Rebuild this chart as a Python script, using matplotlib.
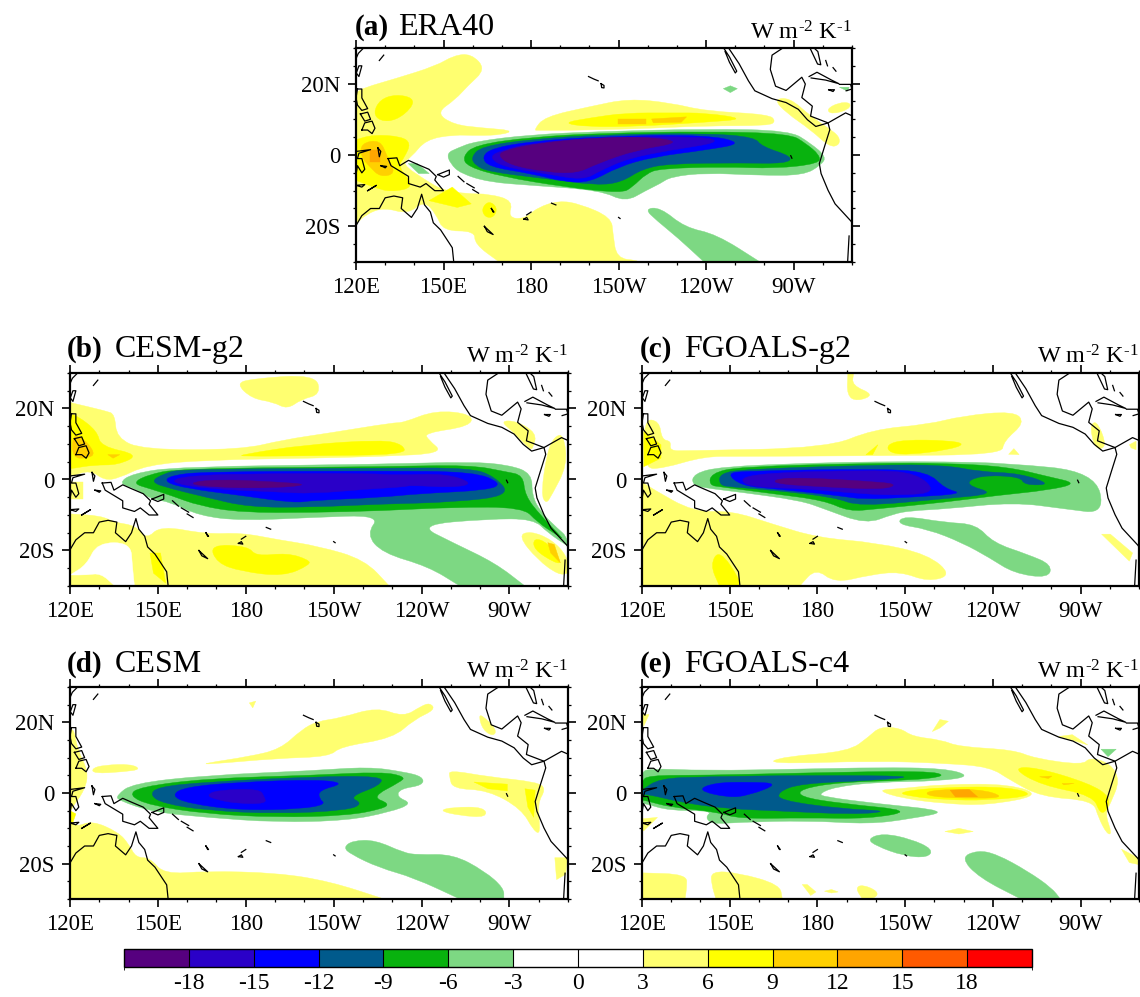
import matplotlib as mpl
mpl.use('Agg')
import matplotlib.pyplot as plt
from matplotlib.colors import ListedColormap, BoundaryNorm
from matplotlib.patches import PathPatch
from matplotlib.path import Path

W, H = 1140, 997

# shading levels, each key is the lower magnitude of the band
LEVEL_COLORS = {0: '#FFFFFF', 3: '#FFFF70', 6: '#FFFF00', 9: '#FFD000', 12: '#FFA500',
                -3: '#7DD883', -6: '#08B20E', -9: '#005A8C', -12: '#0000FF', -15: '#2A00C8', -18: '#56007F'}
CBAR_LEVELS = [-21, -18, -15, -12, -9, -6, -3, 0, 3, 6, 9, 12, 15, 18, 21]
CBAR_COLORS = ['#56007F', '#2A00C8', '#0000FF', '#005A8C', '#08B20E', '#7DD883', '#FFFFFF',
               '#FFFFFF', '#FFFF70', '#FFFF00', '#FFD000', '#FFA500', '#FF5A00', '#FF0000']
CBAR_TICKS = [-18, -15, -12, -9, -6, -3, 0, 3, 6, 9, 12, 15, 18]
CBAR_LABELS = ['-18', '-15', '-12', '-9', '-6', '-3', '0', '3', '6', '9', '12', '15', '18']
LON_TICKS = [120, 150, 180, 210, 240, 270]
LON_LABELS = ['120E', '150E', '180', '150W', '120W', '90W']
LAT_TICKS = [-20, 0, 20]
LAT_LABELS = ['20S', '0', '20N']

# coastlines, lon / lat
COAST = [
    ([247.7, 251.3, 254.5, 256.7, 262.6, 267.4, 271.6, 274.7, 277.6, 281.8, 282.4, 280.6, 278.8, 279.4, 281.8, 284.2, 289.6, 290],
     [30, 25.6, 20.8, 18, 15.8, 14.7, 12.8, 9.9, 8, 9, 7.1, 2.4, -2.4, -5.2, -9.9, -13.7, -18.5, -19]),
    ([246, 248, 250.5, 250, 248, 246.5], [30, 27.5, 23.5, 23, 26, 29]),
    ([266.3, 262.6, 262, 263.8, 267.4, 272.8, 274, 272.8, 276.4, 275.8, 281.8, 287.8, 290],
     [30, 28, 24, 19.3, 18.1, 21.8, 19.9, 16.1, 13.7, 10.9, 9, 11.8, 11]),
    ([275.6, 278.2, 279.3, 278.3, 277], [30, 25.5, 25.3, 29, 30]),
    ([275.3, 278, 283, 285.5, 281, 276], [22, 23.2, 21, 20, 21, 21.6]),
    ([282, 284, 283.5, 282], [18.3, 18.3, 17.8, 18.3]),
    ([285.7, 289.5, 290, 288], [19.8, 19.8, 18.5, 18]),
    ([281, 281.6], [26.5, 25]), ([283.5, 284.5], [24.5, 23.5]),
    ([289, 288.5], [-22.7, -30]),
    ([120, 120.8, 122, 122.6], [27, 28.5, 29.5, 30]),
    ([120.1, 121, 122, 121, 120.1], [23, 25, 25, 22, 23]),
    ([120.5, 122, 122, 124, 122, 120.5, 120, 120.5], [18.5, 18.5, 16, 13, 12.5, 14, 16, 18.5]),
    ([121.5, 124, 125, 123, 121.5], [11.5, 12, 10, 9.5, 11.5]),
    ([122, 123, 125.5, 126.5, 125.5, 124, 122], [7, 9, 9.5, 7.5, 6, 7, 7]),
    ([120, 125, 121, 120.5, 122, 123, 122, 120.5, 120], [1, 1.5, 0.5, -1, -1, -4, -5, -3, -5.5]),
    ([127.5, 128, 128.5, 127.5], [2, -0.5, 1, 2]),
    ([131, 134, 135, 138, 141, 145, 147.5, 147, 150, 147, 144, 142, 138, 138, 134, 132, 131],
     [-1, -0.8, -3, -1.5, -2.6, -4, -6, -7, -10, -10, -8, -9, -8, -6, -4, -3, -1]),
    ([148, 152, 152, 150, 148], [-5.5, -4.2, -5.5, -6.2, -5.5]),
    ([155, 157], [-6, -7.5]), ([158, 160.5], [-8, -9.2]), ([160, 162], [-9.7, -10.7]),
    ([124, 127, 125, 124], [-10, -8.5, -9.5, -10]),
    ([120, 123, 122, 120], [-8.5, -8.3, -9, -8.5]),
    ([128.5, 130.5, 130, 128.5], [-3, -3.2, -3.6, -3]),
    ([120, 122, 125, 128, 130, 133, 136, 135.5, 139, 141, 142.5, 143.5, 145.5, 146.5, 149, 151, 153, 153.5],
     [-19.8, -17, -15, -15, -12, -11.5, -12, -15, -17.5, -15, -11, -14, -16, -19, -21, -23.5, -26, -30]),
    ([166.4, 167.3, 167, 166.4], [-15, -16, -16, -15]),
    ([164, 167, 165, 164], [-20, -22.3, -21.5, -20]),
    ([177.5, 178.5, 179, 177.5], [-18, -17.5, -18.2, -18]),
    ([178.5, 180], [-16.8, -16]),
    ([187, 188.5], [-13.5, -14]),
    ([210, 210.5], [-17.5, -17.8]),
    ([199.7, 201.5, 203], [22, 21.3, 20.8]),
    ([204, 205, 205, 204.2, 204], [20, 19.5, 18.8, 18.9, 20]),
    ([128, 129.5], [26.5, 28]),
    ([269, 269.4], [-0.2, -0.9]),
]

# (a) ERA40
PANEL_A = [
    (3, [120, 122.9, 133.1, 147.5, 153.5, 159.5, 164.5, 158.3, 154.1, 147.5, 153.5, 163.1, 173.9, 170.3, 161.9, 153.5, 143.9, 139.1, 135.5, 143.9, 149.9, 158.3, 165.5, 173.9, 172.1, 177.5, 182.3, 189.5, 196.7, 207.5, 208.1, 209.3, 216.5, 216.5, 169.1, 160.7, 160.7, 149.9, 147.5, 143.3, 137.9, 129.5, 123.5, 120],
         [17.5, 18.9, 21.3, 25, 27.9, 28.4, 24.1, 19.4, 15.6, 11.8, 8.5, 7.6, 6.9, 5.7, 5.4, 5.7, 4.3, -0.5, -2.4, -7.1, -9.9, -10.9, -10.9, -12.8, -17.5, -18, -14.7, -12.8, -13.7, -17.5, -22.2, -28.9, -29.6, -30, -30, -25, -21.3, -21.3, -16.6, -12.8, -16.6, -14.7, -16.6, -19.4]),
    (3, [181, 184.6, 200.3, 213.5, 227.9, 239.9, 261.5, 263.9, 261.5, 239.9, 215.9, 191.9, 182.3],
         [7, 10.7, 13.6, 15.8, 14.6, 12.3, 11.4, 9.5, 8.2, 8.2, 7.3, 6.9, 6.9]),
    (3, [263.2, 268.6, 275.8, 281.8, 285.7, 285.7, 282.4, 275.8, 267.5], [15.6, 16.1, 10.9, 7.6, 5.2, 2.8, 2.2, 7.1, 11.8]),
    (3, [281.2, 285.4, 289.6, 289, 283.1], [12.8, 14.7, 14.7, 12.8, 11.4]),
    (6, [125.9, 128.3, 133.7, 139.7, 139.1, 133.7, 128.3], [11.8, 15.6, 17, 16, 13.2, 9.7, 9.5]),
    (6, [120, 125.9, 135.5, 138.8, 136.7, 134.3, 140.3, 131.9, 125.9, 120], [4.3, 5.7, 5.2, 3.3, -0.5, -3.3, -9, -10.4, -9, -7.1]),
    (6, [145, 153, 159.5, 154.7], [-12.8, -9, -13.7, -14.7]),
    (6, [163, 165.5, 168.5, 167.3, 164.3], [-15.1, -12.8, -14.7, -17.5, -17.5]),
    (6, [190.7, 200.3, 212.3, 227.9, 239.9, 253.7, 239.9, 215.9, 199.1], [9, 10.4, 11.8, 11.8, 11.8, 10.1, 9.2, 8, 7.9]),
    (9, [121.7, 128.3, 130.7, 133.7, 128.3, 124.7, 121.7], [3.3, 4.3, -0.5, -5.2, -6.2, -3.3, -0.5]),
    (12, [124.7, 128.3, 128.3, 124.7], [1.4, 1.4, -2, -2]),
    (9, [209.9, 219.4, 219.4, 209.9], [10, 10, 8.8, 8.8]),
    (9, [221.3, 233.3, 231.5, 221.9], [10.1, 10.7, 9.2, 9]),
    (-3, [218.9, 224.3, 232.7, 243.5, 258.5, 239.3, 230.3, 223.1], [-15.1, -14.7, -20.3, -22.2, -30, -30, -23.2, -18.4]),
    (-3, [245.9, 248.3, 250.7, 248.3], [18.6, 19.4, 18.6, 17.5]),
    (-3, [137.9, 141, 145.1, 141.5], [-2.4, -2.4, -5.2, -5.2]),
    (-3, [285.7, 289, 288.5], [19, 19, 17.9]),
    (-3, [151.1, 154.7, 160.7, 179.9, 203.9, 239.9, 268.6, 275.8, 281.2, 279.4, 273.4, 257.9, 239.9, 227.9, 224.3, 219.5, 212.3, 203.9, 179.9, 165.5, 155.9, 152.3],
         [0.5, 1.9, 3.8, 5.7, 6.6, 7.3, 6.9, 3.3, -0.5, -2.8, -5.7, -5.7, -5, -6.1, -8, -9.9, -13.2, -9.9, -8.5, -7.6, -5.2, -2.4]),
    (-6, [156.5, 160.7, 179.9, 203.9, 239.9, 268.6, 274.1, 278.9, 278.9, 263.9, 245.9, 224.3, 219.5, 214.7, 211.1, 191.9, 170.3, 158.3],
         [-0.5, 2.8, 5, 6.1, 6.6, 6, 3.3, 0, -2.4, -3.8, -3.3, -3.8, -5.2, -9, -10.7, -9, -6.1, -3.3]),
    (-9, [159.5, 163.1, 179.9, 203.9, 239.9, 256.7, 259, 269.8, 267.4, 251.9, 227.9, 218.3, 211.1, 202.7, 184.7, 165.5, 160.7],
         [-0.5, 2.4, 4.4, 5.7, 6.1, 5, 2.4, -0.5, -2.4, -2.2, -2.4, -3.8, -7.6, -8.5, -6.6, -4.7, -2.8]),
    (-12, [163.1, 166.7, 179.9, 203.9, 239.9, 253, 239.9, 221.9, 209.9, 200.3, 191.9, 179.9, 165.5],
          [-0.5, 1.9, 3.8, 5.2, 5.7, 3.3, 1.4, -0.5, -3.3, -7.6, -7.6, -5.2, -3.3]),
    (-15, [165.5, 170.3, 179.9, 203.9, 239.9, 244.7, 227.9, 213.5, 203.9, 197.9, 184.7, 170.3],
          [-0.5, 1.4, 3.3, 5, 5.2, 3.5, 1.4, -0.9, -4.3, -7.1, -5.2, -3.3]),
    (-18, [168.5, 171.5, 182.3, 203.9, 221.9, 231.5, 215.9, 202.7, 195.5, 184.7, 172.7],
          [0, 1.4, 3.3, 5, 5, 3.5, 1.4, -2.4, -5.2, -4.7, -2.8]),
]

# (b) CESM-g2
PANEL_B = [
    (3, [176.7, 182.1, 203.8, 205.6, 199, 194.2, 189.4, 182.1], [27, 28.4, 29.6, 24, 22.6, 19.8, 21.8, 22.8]),
    (3, [120, 132.3, 135.3, 135.9, 144.9, 178.5, 193, 208.6, 230.2, 233.8, 244.7, 257.3, 256.7, 241.1, 242.3, 247.7, 226.6, 202.6, 166.5, 146.1, 136.5, 131.7, 126.9, 120],
         [21.7, 19.3, 18.4, 11.7, 8.4, 8.4, 11.2, 13.1, 16, 16, 19.5, 18.4, 15, 13.1, 11.2, 7.4, 6.5, 6, 5.5, 4.1, 0.3, -0.2, 2.7, 0.8]),
    (3, [120, 124.5, 124.5, 120], [-0.7, -0.7, -5.5, -5.5]),
    (3, [120, 130.5, 135.3, 142.5, 146.1, 150.9, 166.5, 178.5, 190.6, 205, 220.6, 229, 120],
         [-9.7, -10.2, -12.1, -13, -16.9, -13, -15.4, -15, -16.9, -18.8, -22.6, -30, -30]),
    (0, [120, 125.7, 129.3, 140.7, 141.3, 142, 135.3, 130.5, 125.7], [-26.9, -24, -17.8, -17.8, -24.5, -30, -30, -26.4, -26.9]),
    (3, [266.9, 272.3, 279.3, 278.1, 277.1, 271], [16.5, 16.5, 13.1, 8.9, 8.4, 13.6]),
    (3, [285.5, 288.5, 289.8, 284.4, 282.5, 280.8, 282.9], [12.2, 12.7, 4.1, -4.5, -6.9, -4, 7.9]),
    (3, [273, 277.1, 284.4, 289.8, 290, 286.8, 279.6], [-15.9, -14.5, -16.9, -21.6, -26.4, -26.9, -22.6]),
    (6, [120, 122.6, 129.3, 130.5, 143.7, 136.5, 128.1, 120.8, 120], [18.4, 17.9, 13.6, 9.3, 7, 4.1, 4.1, 3.1, 3.1]),
    (6, [178.5, 200.2, 226.6, 233.8, 234.5, 202.6, 178.5], [7, 9.8, 11.2, 9.8, 7, 6.7, 6.5]),
    (6, [167.7, 180.9, 183.4, 194.2, 201.4, 202, 193, 178.5, 170.1], [-18.3, -18.8, -21.6, -20.7, -22.6, -24, -27.3, -25.9, -23.5]),
    (6, [147.3, 150.9, 152.7, 148.5], [-20.7, -20.7, -29.2, -26.4]),
    (6, [278.3, 283.1, 288, 285.5, 278.3], [-16.4, -17.8, -23.5, -23.5, -19.7]),
    (9, [120.8, 124.5, 128.7, 126.3, 120.8], [12.7, 11.7, 7.4, 6, 6]),
    (9, [132.9, 137, 134.7], [7, 7, 6]),
    (9, [283.1, 285.3, 287.4, 284.1], [-17.8, -18.3, -23.5, -20.7]),
    (-3, [136.5, 141.3, 156.9, 226.6, 256.7, 269.9, 277.7, 277.7, 280.7, 286.7, 289.4, 290, 283.1, 278.3, 262.7, 238.7, 250.7, 265.1, 275.3, 253.1, 242.3, 226.6, 221.2, 226, 202.6, 178.5, 164.1, 154.5, 147.3, 142.5],
          [-1.1, 1.7, 3.6, 4.3, 5, 4.1, 1.7, -4.5, -9.2, -14, -15.9, -18.8, -15, -11.1, -11.1, -12.8, -17.8, -23.5, -30, -30, -24.5, -20.7, -15.4, -10, -10.7, -11.6, -10.2, -6.4, -5.4, -2.6]),
    (-6, [141.3, 146.1, 156.9, 226.6, 256.7, 268.7, 274.7, 275.3, 280.7, 288.6, 286.7, 279.5, 274.7, 250.7, 226.6, 202.6, 178.5, 164.1, 154.5, 147.3],
          [-1.1, 1.2, 3.1, 3.6, 4.1, 2.2, 1.2, -4.5, -10.2, -16.9, -15.9, -12, -7.8, -7.8, -8.8, -9.3, -9.3, -7.4, -4.5, -2.6]),
    (-9, [147.3, 152.1, 158.1, 226.6, 256.7, 265.1, 270.5, 250.7, 226.6, 202.6, 181, 166.5, 154.5],
          [-0.7, 1.7, 2.9, 3.2, 3.3, 0.8, -4.5, -6.4, -6.9, -7.8, -7.8, -5, -2.6]),
    (-12, [152.1, 154.5, 166.5, 226.6, 257.9, 267.5, 262.7, 238.7, 226.6, 202.6, 196.6, 178.5, 160.5],
          [-0.7, 1.2, 2.2, 2.4, 2.2, -1.1, -3, -4, -5, -5.9, -6.6, -4.5, -2.6]),
    (-15, [153.3, 160.5, 190.6, 223, 231.4, 248.3, 257.9, 250.7, 236.3, 234, 223, 202.6, 190.6, 166.5],
          [-0.7, 1.2, 1.7, 1.7, 1.2, 1.7, -1.1, -2.3, -1.6, -2.1, -2.6, -4, -3.5, -2.6]),
    (-18, [159.3, 170.1, 190.6, 202, 190.6, 170.1], [-1.1, 0.1, -0.7, -1.4, -2.4, -2.3]),
]

# (c) FGOALS-g2
PANEL_C = [
    (3, [190.4, 192.4, 191.8, 199.5, 193.6, 190.1], [30, 30, 26.5, 23.9, 22, 23.6]),
    (3, [120.6, 125.9, 126.8, 130, 129.4, 135.3, 183.6, 198.9, 217.8, 229.5, 247.2, 251, 243.7, 243.1, 200.1, 153, 141.2, 127.1, 120.6],
         [17, 16.5, 11.2, 10.8, 8.1, 8.1, 8.9, 14.1, 15.5, 17.9, 19.3, 16, 10.8, 7, 6.7, 6.5, 6.5, 3.1, 3.1]),
    (3, [245.4, 247.2, 249], [7.1, 8.7, 7]),
    (3, [120, 123.5, 137.7, 150.6, 164.8, 180.1, 200.1, 217.8, 226, 217.8, 208.3, 197.7, 186, 179.5, 174.2, 174.2, 120],
         [-0.7, -2.6, -9.2, -8.8, -12.6, -16.4, -17.8, -21.1, -26.9, -28.8, -25.9, -26.9, -29.2, -25, -29.7, -30, -30]),
    (3, [273.7, 276, 279, 275.5, 273.7], [16, 16, 9.3, 8.4, 12.2]),
    (3, [286.7, 289, 289, 287.3], [9.8, 10.8, 8.4, 8.9]),
    (3, [277.2, 280.2, 287.8, 286.7], [-15.4, -15.4, -20.7, -23]),
    (6, [120.6, 126.5, 126.5, 120.6], [13.6, 9.8, 6, 3.6]),
    (6, [196.6, 200.7, 198.9], [7, 9.8, 7]),
    (6, [203.6, 209.5, 224.8, 230.7, 224.8, 211.9, 204.8], [9.8, 11.2, 11, 10, 8.4, 7, 7.4]),
    (6, [146.5, 153.6, 153, 146.5, 143.3], [-19.7, -28.3, -30, -30, -24]),
    (-3, [137, 137.7, 147.1, 176.5, 200.1, 223.6, 244.9, 274.9, 278.4, 264.9, 247.2, 223.6, 211.9, 206, 196.6, 182.4, 174.2, 153, 143.6],
          [-1.6, 1.7, 3.6, 4.6, 5, 5, 4.6, 2.2, -9.7, -8.3, -6.4, -8.3, -8.8, -9.7, -12.6, -8.3, -5.9, -3.5, -2.6]),
    (-3, [207.2, 209.5, 223.6, 234.3, 240.1, 251.9, 260.2, 259, 247.2, 239, 229.5, 217.8],
          [-12.6, -10.2, -12.1, -12.6, -17.8, -21.1, -24, -27.8, -26.4, -22.1, -17.8, -14]),
    (-6, [143, 143.6, 153, 200.1, 223.6, 244.9, 259, 269, 259, 241.3, 223.6, 200.1, 190.7, 182.4, 164.8, 147.1],
          [-1.6, 1.7, 3.6, 4.6, 4.6, 3.6, 0.8, -1.1, -3, -4.5, -6.4, -8.3, -9, -5.9, -4, -2.1]),
    (-9, [146.5, 146.5, 155.3, 200.1, 223.6, 235.4, 249.5, 260.2, 250.8, 249.5, 235.4, 230.1, 241.3, 223.6, 194.2, 186, 164.8, 150.6],
          [-1.6, 1.7, 2.9, 4.1, 4.1, 2.2, 1.7, -1.4, -1.6, 0.8, 1.2, -1.4, -4, -5.4, -7.6, -5, -3, -2.1]),
    (-12, [148.9, 155.3, 200.1, 217.8, 223.6, 230.1, 211.9, 195.4, 187.1, 164.8, 154.2],
          [1.7, 2.4, 3, 2.2, -2.6, -4, -5, -5.6, -4.5, -2.6, -1.8]),
    (-15, [154.2, 200.1, 214.2, 220.7, 209.5, 194.2, 176.5, 154.7], [1.7, 2.7, 1.7, -3.5, -4.5, -4, -2.6, -2.1]),
    (-18, [163.6, 168.3, 202.5, 207.2, 201.9, 182.4], [-1.1, 0.8, -0.7, -1.6, -2.8, -2.1]),
]

# (d) CESM
PANEL_D = [
    (3, [120, 121.4, 122.6, 126.3, 125, 120.8, 120], [17.9, 17.9, 12.2, 6, 0.8, -4, -5.9]),
    (3, [120, 122, 127.5, 136.5, 140.1, 142.5, 147.3, 152.1, 166.5, 190.6, 208.6, 227.2, 120],
         [-6.9, -9.7, -7.8, -11.1, -14.5, -18.3, -18.3, -23, -22.1, -22.6, -25, -30, -30]),
    (3, [127.5, 131.7, 140.7, 144.3, 138.3, 128.1], [7, 7.9, 8.2, 6.7, 6, 5.5]),
    (3, [181.2, 183.4, 182.4], [25.5, 26, 24.1]),
    (3, [165.9, 181, 191.8, 199, 204.4, 212.2, 224.8, 233.9, 239.9, 242.9, 244.7, 237.5, 230.2, 212.2, 208.6, 190.6, 166.9],
         [8.4, 10.3, 12.4, 17.9, 20.3, 21.2, 24.3, 21.5, 24.6, 25.5, 23.6, 20.8, 15.5, 13.1, 10.3, 9.8, 8.1]),
    (3, [259.5, 260.9, 265.7, 264.5, 260.9], [21.9, 21.9, 17.9, 16, 17.9]),
    (3, [249.5, 262.7, 279.5, 282.5, 279.5, 280.7, 278.3, 274.1, 262.7, 250.7, 249.5], [6.5, 4.6, 3.1, 1.2, -3, -11.6, -10.7, -4.5, 0.8, 1.2, 4.6]),
    (3, [245.9, 250.7, 261.5, 262.3, 253.1], [-5, -4, -4, -6.9, -6.4]),
    (3, [285.5, 289.8, 289.2, 286.1], [-18.3, -18.3, -23, -24.5]),
    (6, [257.9, 269.3, 269.3, 262.7], [3.1, 2.5, 0.6, 1.2]),
    (6, [275.3, 278.8, 278.3, 276.3], [1.2, 0.8, -6.9, -4]),
    (6, [120, 122, 120.8, 120], [-5, -5.9, -8.8, -8.8]),
    (-3, [135.9, 141.3, 166.5, 202.6, 221.8, 233.9, 240.5, 240.5, 232.7, 231.5, 236.9, 229.1, 214.6, 190.6, 166.5, 148.5, 136.5],
          [-0.7, 2.7, 5, 6.3, 7.4, 6, 4.6, 2.2, 1.2, -1.1, -3, -5.4, -7.8, -8.3, -6.9, -5.4, -2.1]),
    (-3, [213.4, 216.4, 224.2, 233.9, 238.7, 250.7, 261.5, 268.1, 268.1, 253.1, 237.5, 225.4, 215.8],
          [-15.4, -13.5, -13.3, -16.9, -17.5, -17.3, -22.1, -26.9, -30, -30, -24, -21.1, -17.3]),
    (-6, [140.1, 143.7, 166.5, 202.6, 226.6, 234.5, 232.7, 223, 229.1, 226.6, 214.6, 190.6, 166.5, 147.3],
          [-0.7, 1.7, 4.1, 5, 6, 4.6, 3.1, -1.1, -3, -4.5, -6.4, -6.9, -5.9, -3.5]),
    (-9, [147.3, 149.7, 166.5, 202.6, 226.6, 226, 215.2, 220, 214.6, 190.6, 166.5, 152.1],
          [-0.7, 1.7, 3.1, 4.6, 4.8, 2.2, -1.1, -3, -4.9, -5.9, -4.9, -3]),
    (-12, [154.5, 159.3, 178.5, 205, 213.8, 205, 205, 207.4, 199, 178.5, 160.5], [-0.7, 1.7, 3.1, 3.8, 2.7, 0.8, -1.6, -3.2, -4.5, -4.9, -3]),
    (-15, [166.5, 170.1, 184.6, 186.4, 187, 177.3, 170.1], [-0.7, 0.8, 1.2, -1.1, -3, -3, -1.9]),
]

# (e) FGOALS-c4
PANEL_E = [
    (3, [162.4, 168.3, 190.7, 197.7, 201.3, 208.3, 212.5, 222.5, 228.4, 247.2, 254.3, 270.8, 273.1, 280.2, 283.5, 280.2, 278.4, 280.8, 279, 276.1, 274.3, 256.6, 246, 239, 223.6, 200.1],
         [8.2, 10.3, 11.7, 16, 18.7, 18.4, 16, 15, 13.1, 12.2, 9.8, 7.9, 10.1, 8.4, 3.6, -3, -5.9, -11.6, -11.6, -6.9, -2.1, -1.1, 3.6, 7.4, 8.4, 9.1]),
    (3, [200.1, 208.3, 223.6, 246, 256.6, 237.8, 223.6, 209.5], [0.8, 1.2, 2.5, 2.5, -0.7, -3.5, -3, -1.6]),
    (3, [219.3, 221.9, 224.8, 221.9], [17.4, 20.8, 20.3, 18.4]),
    (3, [262.5, 267.2, 272.5, 264.9], [16, 16.5, 13.6, 15.5]),
    (3, [120, 122.4, 120.6], [22.2, 22.2, 18.9]),
    (3, [120, 125.3, 120.6, 120], [-7.3, -6.9, -10.7, -10.7]),
    (3, [223.6, 228.4, 233.3, 228.4], [-10.9, -10, -10.9, -11.6]),
    (3, [284, 289.6, 289.6, 286.7], [-15.9, -18.3, -20.2, -19.7]),
    (3, [120, 135.3, 135.3, 134.7, 120], [-22.6, -23, -26.9, -30, -30]),
    (3, [143.6, 153, 167.1, 168, 145.3, 143.8], [-22.1, -22.6, -25.9, -30, -30, -25.9]),
    (3, [174.8, 176.5, 179.5, 177.7], [-25.9, -25.9, -28, -29]),
    (3, [182.4, 184.8, 187.1, 184.8], [-27.8, -27.3, -28, -28.3]),
    (3, [193, 195.4, 200.7, 200.1, 195.4], [-26.9, -25.9, -27.8, -29.7, -30]),
    (6, [246.6, 254.3, 273.1, 280.2, 279, 276.7, 274.3, 256.6], [7, 7.4, 2.7, -1.1, -5, -5.9, -0.7, 2.2]),
    (6, [207.2, 223.6, 246, 254.8, 237.8, 223.6, 211.9], [0.3, 1.7, 1.7, -0.7, -2.1, -1.9, -1]),
    (9, [217.2, 235.4, 244.3, 235.4, 217.8], [0.8, 1.2, -1.1, -1.6, -1.1]),
    (12, [225.4, 231.9, 234.8, 227.2], [0.8, 1, -1.1, -1.1]),
    (9, [256, 260.2, 259], [4.6, 4.8, 4.1]),
    (9, [263.7, 267.8, 264.3], [2.7, 2.7, 2.3]),
    (-3, [197.1, 202.4, 211.9, 219.5, 217.8, 209.5, 200.1], [-13, -11.4, -13, -15.9, -18.3, -17.8, -15]),
    (-3, [229, 234.8, 241.3, 251.9, 260.2, 263.1, 249.6, 235.4], [-18.3, -16.2, -17.3, -22.1, -26.9, -30, -30, -24]),
    (-3, [277, 282.2, 279.4], [12.4, 12.4, 10.3]),
    (-3, [120, 121.8, 141.2, 176.5, 200.1, 223.6, 232.5, 222.5, 200.1, 186, 180.5, 182.4, 200.1, 225.5, 211.9, 197.7, 176.5, 153, 144.1, 141.6, 144.1, 129.4, 121.2, 120],
          [5.5, 7, 6.3, 6.8, 7.2, 7, 4.8, 3.4, 3.1, 1.7, -0.2, -1.1, -3, -5.1, -7.3, -8.8, -7.8, -8.3, -8.8, -6.9, -5, -5, -3, -3]),
    (-6, [120, 121.8, 141.2, 176.5, 217.8, 224.5, 211.9, 188.3, 174.2, 173.9, 188.3, 213, 197.7, 176.5, 153, 146, 129.4, 121.2, 120],
          [3.1, 5, 5, 5.7, 6.3, 4.8, 3.6, 3.1, 1.2, -1.1, -3, -5, -7.3, -7, -7.3, -5.4, -4, -2.1, -2.1]),
    (-9, [120, 125.9, 141.2, 176.5, 215, 200.1, 174.2, 166.5, 167.1, 188.3, 205, 193, 164.8, 150.6, 135.3, 121.2, 120],
          [0.8, 4.1, 4.6, 5, 4.8, 3.6, 2.7, 0.3, -2.1, -4.5, -5.1, -6.1, -5, -4.5, -3, -0.2, -0.7]),
    (-12, [138.8, 144.7, 156.5, 167.1, 156.5, 149.4], [0.8, 2.9, 3.1, 2.7, -0.7, -1.3]),
]


def px_axes(fig, x0, y0, x1, y1):
    return fig.add_axes([x0 / W, 1 - y1 / H, (x1 - x0) / W, (y1 - y0) / H])


def is_edge(lon, lat):
    return lon <= 120 or lon >= 290 or abs(lat) >= 30


def rounded_path(lons, lats):
    # quadratic segments through edge midpoints, points on the map edge stay sharp
    pts = list(zip(lons, lats))
    n = len(pts)
    mid = lambda a, b: ((a[0] + b[0]) / 2, (a[1] + b[1]) / 2)
    start = mid(pts[-1], pts[0])
    verts, codes = [start], [Path.MOVETO]
    for i in range(n):
        p, nxt = pts[i], pts[(i + 1) % n]
        m = mid(p, nxt)
        if is_edge(*p):
            verts += [p, m]
            codes += [Path.LINETO, Path.LINETO]
        else:
            verts += [p, m]
            codes += [Path.CURVE3, Path.CURVE3]
    verts.append(start)
    codes.append(Path.CLOSEPOLY)
    return Path(verts, codes)


def draw_panel(fig, box, regions, tag, name, tag_x, name_x, title_y, unit_y):
    ax = px_axes(fig, *box)
    for level, lons, lats in regions:
        c = LEVEL_COLORS[level]
        if len(lons) >= 5:
            ax.add_patch(PathPatch(rounded_path(lons, lats), facecolor=c, edgecolor=c, lw=0.3, zorder=2))
        else:
            ax.fill(lons, lats, color=c, lw=0.3, zorder=2)
    for lons, lats in COAST:
        ax.plot(lons, lats, color='k', lw=0.9, zorder=3)
    ax.set_xlim(120, 290)
    ax.set_ylim(-30, 30)
    ax.set_xticks(LON_TICKS)
    ax.set_xticklabels(LON_LABELS)
    ax.set_yticks(LAT_TICKS)
    ax.set_yticklabels(LAT_LABELS)
    ax.set_xticks(range(120, 291, 10), minor=True)
    ax.set_yticks(range(-30, 31, 5), minor=True)
    ax.tick_params(which='major', direction='out', length=6, width=1.2, top=True, right=True, labelsize=16.5, pad=5)
    ax.tick_params(which='minor', direction='out', length=2.5, width=0.9, top=True, right=True)
    for s in ax.spines.values():
        s.set_linewidth(1.6)
        s.set_zorder(5)
    fig.text(tag_x / W, 1 - title_y / H, tag, fontsize=21, fontweight='bold', va='baseline', ha='left')
    fig.text(name_x / W, 1 - title_y / H, name, fontsize=23, va='baseline', ha='left')
    fig.text(box[2] / W, 1 - unit_y / H, r'W m$^{\text{-2}}$ K$^{\text{-1}}$', fontsize=17.5, va='baseline', ha='right')
    return ax


def main():
    plt.rcParams['font.family'] = ['Liberation Serif', 'DejaVu Serif']
    plt.rcParams['mathtext.fontset'] = 'custom'
    plt.rcParams['mathtext.rm'] = 'Liberation Serif'
    plt.rcParams['mathtext.default'] = 'rm'

    fig = plt.figure(figsize=(W / 100, H / 100), dpi=100)

    draw_panel(fig, (356, 48, 852, 262), PANEL_A, '(a)', 'ERA40', 355, 398, 35, 39)
    draw_panel(fig, (70, 373, 568, 586), PANEL_B, '(b)', 'CESM-g2', 67, 115, 357, 363)
    draw_panel(fig, (642, 373, 1140 - 1, 586), PANEL_C, '(c)', 'FGOALS-g2', 640, 684, 357, 363)
    draw_panel(fig, (70, 687, 568, 899), PANEL_D, '(d)', 'CESM', 67, 115, 672, 678)
    draw_panel(fig, (642, 687, 1140 - 1, 899), PANEL_E, '(e)', 'FGOALS-c4', 640, 684, 672, 678)

    cax = px_axes(fig, 124, 949, 1032, 967)
    cmap = ListedColormap(CBAR_COLORS)
    norm = BoundaryNorm(CBAR_LEVELS, cmap.N)
    cb = mpl.colorbar.ColorbarBase(cax, cmap=cmap, norm=norm, orientation='horizontal',
                                   ticks=CBAR_TICKS, drawedges=True, spacing='uniform')
    cb.set_ticklabels(CBAR_LABELS)
    cb.ax.tick_params(length=0, labelsize=17, pad=4)
    cb.outline.set_linewidth(1.0)
    cb.dividers.set_linewidth(0.8)

    plt.savefig('out.png', dpi=100)


if __name__ == '__main__':
    main()
